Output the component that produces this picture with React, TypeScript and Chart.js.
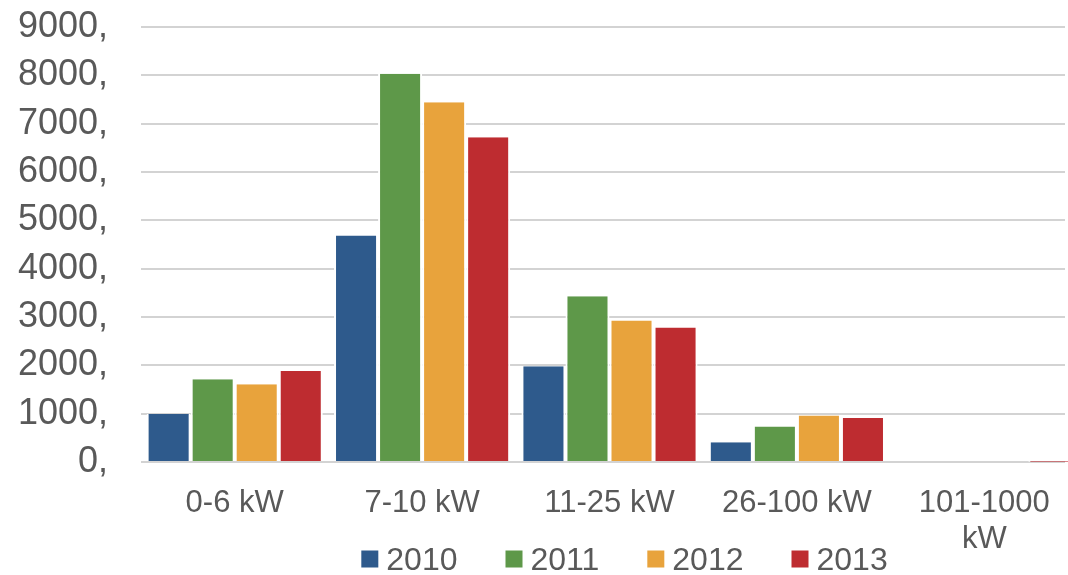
import React, { useEffect, useRef } from "react";
import { Chart, registerables } from "chart.js";

Chart.register(...registerables);

const categories: (string | string[])[] = ["0-6 kW", "7-10 kW", "11-25 kW", "26-100 kW", ["101-1000", "kW"]];
const seriesNames = ["2010", "2011", "2012", "2013"];
const values2010 = [995, 4684, 1982, 408, 0];
const values2011 = [1711, 8035, 3428, 737, 0];
const values2012 = [1608, 7442, 2928, 960, 0];
const values2013 = [1883, 6718, 2784, 912, 5];
const seriesColors = ["#2e5a8c", "#5e9849", "#e8a33c", "#be2c30"];
const yTicks = [0, 1000, 2000, 3000, 4000, 5000, 6000, 7000, 8000, 9000];

const FONT = "'Liberation Sans', Arial, sans-serif";
const TEXT = "#595959";
const VISIBLE_RIGHT = 1065;

const clipPlugin = {
  id: "gridClip",
  beforeDraw(chart: any) {
    const ctx = chart.ctx;
    ctx.save();
    ctx.beginPath();
    ctx.rect(0, 0, VISIBLE_RIGHT, chart.height);
    ctx.clip();
  },
  beforeDatasetsDraw(chart: any) {
    chart.ctx.restore();
  },
};

const legendPlugin = {
  id: "customLegend",
  afterDraw(chart: any) {
    const ctx = chart.ctx;
    ctx.save();
    ctx.font = `32px ${FONT}`;
    ctx.textBaseline = "middle";
    ctx.textAlign = "left";
    const box = 17;
    const gap = 8;
    const itemGap = 48;
    const items = chart.data.datasets.map((d: any) => ({
      label: d.label,
      color: d.backgroundColor,
      w: box + gap + ctx.measureText(d.label).width,
    }));
    const total = items.reduce((s: number, it: any) => s + it.w, 0) + itemGap * (items.length - 1);
    const cx = (chart.chartArea.left + chart.chartArea.right) / 2 + 15;
    let x = cx - total / 2;
    const y = 560;
    items.forEach((it: any) => {
      ctx.fillStyle = it.color;
      ctx.fillRect(x, y - 1 - box / 2, box, box);
      ctx.fillStyle = TEXT;
      ctx.fillText(it.label, x + box + gap, y + 1);
      x += it.w + itemGap;
    });
    ctx.restore();
  },
};

export default function App() {
  const ref = useRef<HTMLCanvasElement | null>(null);
  useEffect(() => {
    document.body.style.margin = "0";
    document.body.style.overflow = "hidden";
    const seriesValues = [values2010, values2011, values2012, values2013];
    const chart = new Chart(ref.current as HTMLCanvasElement, {
      type: "bar",
      data: {
        labels: categories,
        datasets: seriesNames.map((name, i) => ({
          label: name,
          data: seriesValues[i],
          backgroundColor: seriesColors[i],
          borderColor: "#ffffff",
          borderWidth: { left: 2, right: 2, top: 0, bottom: 0 },
          borderSkipped: false,
          categoryPercentage: 0.94,
          barPercentage: 1,
        })),
      },
      options: {
        responsive: false,
        animation: false,
        layout: { padding: { top: 0, right: 0, left: 0, bottom: 0 } },
        plugins: {
          legend: { display: false },
          tooltip: { enabled: false },
        },
        scales: {
          x: {
            grid: { display: false, drawTicks: false },
            border: { display: false },
            ticks: {
              color: TEXT,
              font: { family: FONT, size: 31, lineHeight: 1.14 },
              padding: 24,
              maxRotation: 0,
              autoSkip: false,
            },
            afterFit(scale: any) {
              scale.height = 113;
            },
          },
          y: {
            min: 0,
            max: 9000,
            afterBuildTicks(scale: any) {
              scale.ticks = yTicks.map((v) => ({ value: v }));
            },
            grid: { color: "#d3d3d3", lineWidth: 2, drawTicks: false },
            border: { display: false },
            ticks: {
              color: TEXT,
              font: { family: FONT, size: 36 },
              padding: 33,
              callback: (v: any) => `${v},`,
            },
            afterFit(scale: any) {
              scale.width = 141;
              scale.paddingTop = 27;
              scale.paddingBottom = 0;
            },
          },
        },
      },
      plugins: [clipPlugin, legendPlugin],
    });
    return () => chart.destroy();
  }, []);
  return (
    <div style={{ width: 1068, height: 575, overflow: "hidden" }}>
      <canvas ref={ref} width={1078} height={575} style={{ display: "block" }} />
    </div>
  );
}
